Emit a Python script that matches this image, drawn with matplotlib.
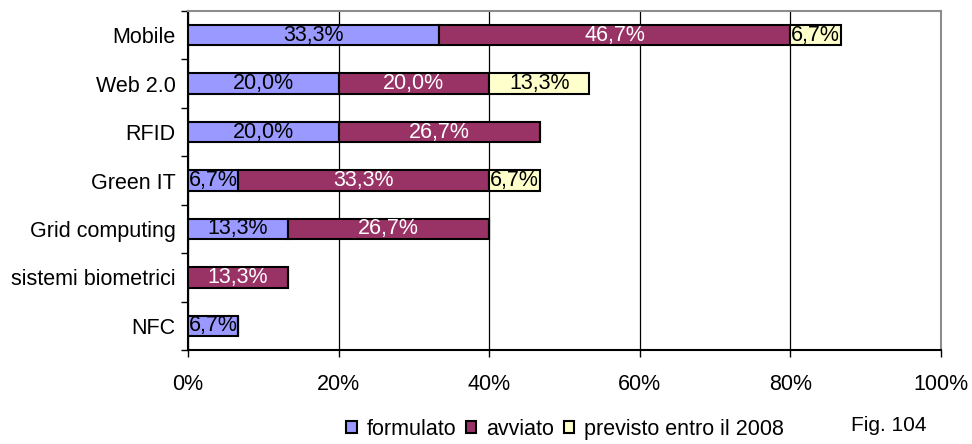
import matplotlib
matplotlib.use("Agg")
import matplotlib.pyplot as plt
import numpy as np
from matplotlib.ticker import FixedLocator, NullFormatter, FuncFormatter

plt.rcParams['font.family'] = ['Liberation Sans', 'DejaVu Sans']

categories = ["Mobile", "Web 2.0", "RFID", "Green IT", "Grid computing",
              "sistemi biometrici", "NFC"]
formulato = [33.3, 20.0, 20.0, 6.7, 13.3, 0.0, 6.7]
avviato = [46.7, 20.0, 26.7, 33.3, 26.7, 13.3, 0.0]
previsto = [6.7, 13.3, 0.0, 6.7, 0.0, 0.0, 0.0]
series_names = ["formulato", "avviato", "previsto entro il 2008"]
colors = ["#9999FF", "#993366", "#FFFFCC"]
text_colors = ["black", "white", "black"]
x_ticks = [0, 20, 40, 60, 80, 100]

fig = plt.figure(figsize=(9.72, 4.44), dpi=100)
ax = fig.add_axes([188 / 972, 1 - 350 / 444, (941 - 188) / 972, (350 - 11) / 444])

n = len(categories)
y = np.arange(n)[::-1]
left = np.zeros(n)
handles = []
for vals, col, tcol, name in zip([formulato, avviato, previsto], colors,
                                 text_colors, series_names):
    vals = np.array(vals)
    bars = ax.barh(y, vals, left=left, height=0.42, color=col,
                   edgecolor="black", linewidth=1.5, label=name, zorder=3)
    handles.append(bars)
    for yi, v, l in zip(y, vals, left):
        if v > 0:
            ax.text(l + v / 2, yi, f"{v:.1f}%".replace(".", ","),
                    ha="center", va="center", color=tcol, fontsize=15.5,
                    zorder=4)
    left = left + vals

ax.set_xlim(0, 100)
ax.set_ylim(-0.5, n - 0.5)
ax.xaxis.set_major_locator(FixedLocator(x_ticks))
ax.xaxis.set_major_formatter(FuncFormatter(lambda v, p: f"{v:.0f}%"))
ax.grid(axis="x", color="black", linewidth=0.9, zorder=0)

ax.set_yticks(y)
ax.set_yticklabels(categories)
ax.yaxis.set_minor_locator(FixedLocator(np.arange(-0.5, n, 1.0)))
ax.yaxis.set_minor_formatter(NullFormatter())
ax.tick_params(axis="y", which="major", length=0, pad=9, labelsize=15.5)
ax.tick_params(axis="y", which="minor", length=5, width=1, color="black")
ax.tick_params(axis="x", which="major", length=5, width=1, pad=12,
               labelsize=15.5)

for side in ("top", "right"):
    ax.spines[side].set_color("#8c8c8c")
    ax.spines[side].set_linewidth(1.5)
ax.spines["left"].set_color("black")
ax.spines["left"].set_linewidth(1.5)
ax.spines["bottom"].set_color("black")
ax.spines["bottom"].set_linewidth(1.5)

leg = fig.legend(handles=handles, labels=series_names, loc="center",
                 bbox_to_anchor=(565 / 972, 1 - 429 / 444), ncol=3,
                 frameon=False, fontsize=15.5, handlelength=0.5,
                 handleheight=0.5, handletextpad=0.45, columnspacing=0.45,
                 borderpad=0.1)
fig.text(889 / 972, 1 - 425 / 444, "Fig. 104", ha="center", va="center",
         fontsize=15)

fig.savefig("out.png", dpi=100)
